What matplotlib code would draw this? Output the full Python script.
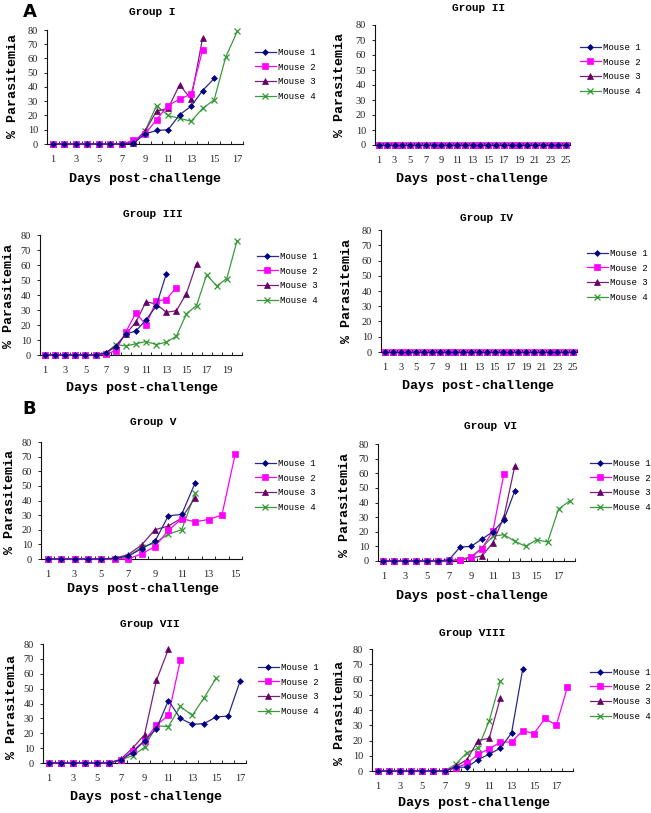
import matplotlib
matplotlib.use("Agg")
import matplotlib.pyplot as plt

W, H = 651, 813

# ---------------- data ----------------
mice = ["Mouse 1", "Mouse 2", "Mouse 3", "Mouse 4"]
group_names = ["Group I", "Group II", "Group III", "Group IV",
               "Group V", "Group VI", "Group VII", "Group VIII"]
n_days = [17, 25, 20, 25, 15, 18, 17, 18]

g1_m1 = [0, 0, 0, 0, 0, 0, 0, 0.5, 7, 9.5, 10, 20.5, 26.5, 37.5, 46]
g1_m2 = [0, 0, 0, 0, 0, 0, 0, 2.5, 7, 17, 27, 31.5, 35, 66]
g1_m3 = [0, 0, 0, 0, 0, 0, 0, 1, 9, 23, 25, 41.5, 31.5, 74.5]
g1_m4 = [0, 0, 0, 0, 0, 0, 0, 1, 9, 27, 20, 18, 16, 25, 31, 61, 79]

g2_m1 = [0, 0, 0, 0, 0, 0, 0, 0, 0, 0, 0, 0, 0, 0, 0, 0, 0, 0, 0, 0, 0, 0, 0, 0, 0]
g2_m2 = [0, 0, 0, 0, 0, 0, 0, 0, 0, 0, 0, 0, 0, 0, 0, 0, 0, 0, 0, 0, 0, 0, 0, 0, 0]
g2_m3 = [0, 0, 0, 0, 0, 0, 0, 0, 0, 0, 0, 0, 0, 0, 0, 0, 0, 0, 0, 0, 0, 0, 0, 0, 0]
g2_m4 = [0, 0, 0, 0, 0, 0, 0, 0, 0, 0, 0, 0, 0, 0, 0, 0, 0, 0, 0, 0, 0, 0, 0, 0, 0]

g3_m1 = [0, 0, 0, 0, 0, 0, 1.5, 5.5, 14, 16, 23.5, 32.5, 54]
g3_m2 = [0, 0, 0, 0, 0, 0, 0.5, 3, 15.5, 28, 20, 36, 37, 45]
g3_m3 = [0, 0, 0, 0, 0, 0, 1.5, 6, 14, 22, 35.5, 34, 28.5, 29.5, 41, 61]
g3_m4 = [0, 0, 0, 0, 0, 0, 1, 7, 6, 7.5, 9, 7, 8.5, 12.5, 27.5, 33, 53.5, 46, 51, 76]

g4_m1 = [0, 0, 0, 0, 0, 0, 0, 0, 0, 0, 0, 0, 0, 0, 0, 0, 0, 0, 0, 0, 0, 0, 0, 0, 0]
g4_m2 = [0, 0, 0, 0, 0, 0, 0, 0, 0, 0, 0, 0, 0, 0, 0, 0, 0, 0, 0, 0, 0, 0, 0, 0, 0]
g4_m3 = [0, 0, 0, 0, 0, 0, 0, 0, 0, 0, 0, 0, 0, 0, 0, 0, 0, 0, 0, 0, 0, 0, 0, 0, 0]
g4_m4 = [0, 0, 0, 0, 0, 0, 0, 0, 0, 0, 0, 0, 0, 0, 0, 0, 0, 0, 0, 0, 0, 0, 0, 0, 0]

g5_m1 = [0, 0, 0, 0, 0, 0.5, 2, 7, 12, 29.5, 30.5, 52]
g5_m2 = [0, 0, 0, 0, 0, 0, 0, 3.5, 8.5, 19.5, 27.5, 25.5, 27, 30, 72]
g5_m3 = [0, 0, 0, 0, 0, 0.5, 3, 9.5, 20, 22.5, 28, 42]
g5_m4 = [0, 0, 0, 0, 0, 0, 1.5, 8, 11, 17, 20, 45]

g6_m1 = [0, 0, 0, 0, 0, 0, 1, 9.5, 10, 15, 20, 28, 48]
g6_m2 = [0, 0, 0, 0, 0, 0, 0.5, 0.5, 2.5, 8.5, 20.5, 59.5]
g6_m3 = [0, 0, 0, 0, 0, 0, 0, 1, 2, 3.5, 12.5, 30, 65]
g6_m4 = [0, 0, 0, 0, 0, 0, 0, 1, 3, 9, 17, 18, 13.5, 10, 14.5, 13, 35.5, 41]

g7_m1 = [0, 0, 0, 0, 0, 0, 2, 7, 15, 23, 42, 30, 26, 26.5, 31, 31.5, 55]
g7_m2 = [0, 0, 0, 0, 0, 0, 2, 8, 15, 25.5, 32, 69]
g7_m3 = [0, 0, 0, 0, 0, 0, 2.5, 10, 19, 55.5, 76.5]
g7_m4 = [0, 0, 0, 0, 0, 0, 2, 5, 10.5, 25, 24.5, 38, 32, 44, 57]

g8_m1 = [0, 0, 0, 0, 0, 0, 0, 2.5, 2.5, 7.5, 11, 15, 25, 67]
g8_m2 = [0, 0, 0, 0, 0, 0, 0, 2, 5, 11, 14.5, 19, 19, 26.5, 24.5, 34.5, 30, 55]
g8_m3 = [0, 0, 0, 0, 0, 0, 0, 3, 7.5, 20, 21.5, 48]
g8_m4 = [0, 0, 0, 0, 0, 0, 0, 4.5, 12, 15, 33, 59]

y_ticks = [0, 10, 20, 30, 40, 50, 60, 70, 80]

series = [
    [g1_m1, g1_m2, g1_m3, g1_m4],
    [g2_m1, g2_m2, g2_m3, g2_m4],
    [g3_m1, g3_m2, g3_m3, g3_m4],
    [g4_m1, g4_m2, g4_m3, g4_m4],
    [g5_m1, g5_m2, g5_m3, g5_m4],
    [g6_m1, g6_m2, g6_m3, g6_m4],
    [g7_m1, g7_m2, g7_m3, g7_m4],
    [g8_m1, g8_m2, g8_m3, g8_m4],
]

# ---------------- layout (pixels) ----------------
boxes = [(47, 243, 30, 144), (375, 570, 25, 145),
         (40, 242, 235, 355), (381, 577, 230, 352),
         (41, 242, 442, 559), (378, 575, 444, 561),
         (43, 246, 644, 763), (372, 573, 649, 771)]
title_pos = [(152, 12), (478, 8), (153, 214), (487, 218),
             (153, 422), (491, 426), (150, 624), (472, 633)]
xlabel_pos = [(145, 179), (472, 179), (142, 388), (478, 386),
              (143, 589), (472, 596), (146, 797), (474, 803)]
ylabel_pos = [(13, 86), (340, 85), (9, 296), (347, 291),
              (10, 502), (345, 505), (12, 707), (340, 713)]
legend_pos = [(255, 48), (580, 43), (257, 252), (587, 249),
              (255, 459), (590, 459), (258, 663), (590, 668)]

line_colors = ["#2a2a8a", "#ff00ff", "#7a207a", "#3a9a3a"]
marker_colors = ["#000080", "#ff00ff", "#660066", "#339933"]
markers = ["D", "s", "^", "x"]
msizes = [3.0, 3.8, 4.0, 3.8]

MONO = "Liberation Mono"
SERIF = "Liberation Serif"

fig = plt.figure(figsize=(W / 100, H / 100), dpi=100)
fig.patch.set_facecolor("white")


def fx(px):
    return px / W


def fy(py):
    return 1 - py / H


for i in range(8):
    l, r, t, b = boxes[i]
    ax = fig.add_axes([fx(l), fy(b), (r - l) / W, (b - t) / H])
    n = n_days[i]
    for k in range(4):
        vals = series[i][k]
        days = list(range(1, len(vals) + 1))
        ax.plot(days, vals, color=line_colors[k], lw=0.9,
                marker=markers[k], markersize=msizes[k],
                markerfacecolor=marker_colors[k],
                markeredgecolor=marker_colors[k],
                markeredgewidth=0.9 if markers[k] == "x" else 0.5,
                label=mice[k], clip_on=False, zorder=3 + (3 - k) * 0.1)
    ax.set_xlim(0.5, n + 0.5)
    ax.set_ylim(0, 80)
    ax.set_yticks(y_ticks)
    ax.set_xticks(list(range(1, n + 1, 2)))
    ax.set_xticks([d + 0.5 for d in range(0, n + 1)], minor=True)
    ax.tick_params(axis="x", which="major", length=0, pad=8, labelsize=7.5)
    ax.tick_params(axis="x", which="minor", length=2.5, width=0.6, direction="in")
    ax.tick_params(axis="y", length=2.5, width=0.6, pad=4, labelsize=7.5)
    for lab in ax.get_xticklabels() + ax.get_yticklabels():
        lab.set_fontfamily(SERIF)
        lab.set_color("#222222")
    for s in ["top", "right"]:
        ax.spines[s].set_visible(False)
    for s in ["left", "bottom"]:
        ax.spines[s].set_linewidth(0.8)
        ax.spines[s].set_color("#111111")

    fig.text(fx(title_pos[i][0]), fy(title_pos[i][1]), group_names[i],
             ha="center", va="center", fontsize=8, fontweight="bold",
             family=MONO)
    fig.text(fx(xlabel_pos[i][0]), fy(xlabel_pos[i][1]), "Days post-challenge",
             ha="center", va="center", fontsize=9.6, fontweight="bold",
             family=MONO)
    fig.text(fx(ylabel_pos[i][0]), fy(ylabel_pos[i][1]), "% Parasitemia",
             ha="center", va="center", fontsize=9.6, fontweight="bold",
             family=MONO, rotation=90)

    ax.legend(loc="upper left",
              bbox_to_anchor=(fx(legend_pos[i][0]), fy(legend_pos[i][1])),
              bbox_transform=fig.transFigure, frameon=False,
              borderpad=0, borderaxespad=0, handlelength=2.3,
              handletextpad=0.25, labelspacing=0.62,
              prop={"family": MONO, "size": 6.5})

fig.text(fx(23), fy(12), "A", ha="left", va="center", fontsize=13,
         fontweight="bold", family="DejaVu Sans")
fig.text(fx(22), fy(409), "B", ha="left", va="center", fontsize=13,
         fontweight="bold", family="DejaVu Sans")

fig.savefig("out.png", dpi=100, facecolor="white")
